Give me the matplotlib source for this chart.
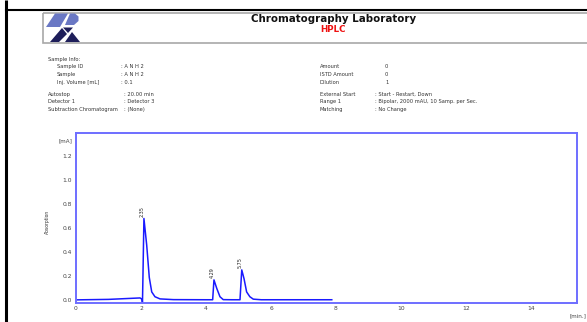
import matplotlib
matplotlib.use("Agg")
import matplotlib.pyplot as plt
from matplotlib.patches import Polygon, Rectangle

# ---------------- data ----------------
trace_time = [0.0, 1.0, 1.97, 2.03, 2.045, 2.06, 2.09, 2.175, 2.255, 2.33, 2.43,
              2.585, 3.0, 4.0, 4.205, 4.245, 4.33, 4.43, 4.53, 4.8, 5.046, 5.10,
              5.17, 5.25, 5.35, 5.455, 5.7, 6.5, 7.87]
trace_abs = [0.004, 0.008, 0.02, 0.01, -0.022, 0.2, 0.68, 0.46, 0.19, 0.07, 0.03,
             0.012, 0.006, 0.005, 0.005, 0.17, 0.10, 0.03, 0.006, 0.005, 0.005, 0.253,
             0.18, 0.07, 0.03, 0.01, 0.005, 0.005, 0.005]
peak_times = [2.09, 4.245, 5.10]
peak_heights = [0.68, 0.17, 0.253]
peak_labels = ["2.35", "4.29", "5.75"]
x_ticks = [0, 2, 4, 6, 8, 10, 12, 14]
y_ticks = [0.0, 0.2, 0.4, 0.6, 0.8, 1.0, 1.2]

info_left_top = [("Sample ID", ": A N H 2"), ("Sample", ": A N H 2"), ("Inj. Volume [mL]", ": 0.1")]
info_left_bot = [("Autostop", ": 20.00 min"), ("Detector 1", ": Detector 3"),
                 ("Subtraction Chromatogram", ": (None)")]
info_right_top = [("Amount", "0"), ("ISTD Amount", "0"), ("Dilution", "1")]
info_right_bot = [("External Start", ": Start - Restart, Down"),
                  ("Range 1", ": Bipolar, 2000 mAU, 10 Samp. per Sec."),
                  ("Matching", ": No Change")]

W, H = 587, 322
fig = plt.figure(figsize=(W / 100, H / 100), dpi=100)
plt.rcParams['font.family'] = ['DejaVu Sans']

# overlay axes in pixel coordinates for page decorations
ov = fig.add_axes([0, 0, 1, 1])
ov.set_xlim(0, W)
ov.set_ylim(H, 0)
ov.axis('off')

ov.plot([6, 6], [0, H], color='black', lw=2.2, solid_capstyle='butt')
ov.plot([6, W], [9.5, 9.5], color='black', lw=1.5)
ov.add_patch(Rectangle((43, 12.7), 560, 29.8, fill=False, ec='#a8a8a8', lw=1.2))

# logo
ov.add_patch(Polygon([(55, 13.5), (68, 13.5), (60, 27), (46, 27)], closed=True, fc='#6a78c4', ec='none'))
ov.add_patch(Polygon([(70, 13.5), (75, 13.5), (78.5, 16.5), (78.5, 21), (74, 25), (65, 25)],
                     closed=True, fc='#6a78c4', ec='none'))
ov.add_patch(Polygon([(50, 42), (62, 28), (67, 34), (59, 42)], closed=True, fc='#1e1e5a', ec='none'))
ov.add_patch(Polygon([(63, 27.5), (73, 27.5), (68, 33)], closed=True, fc='#1e1e5a', ec='none'))
ov.add_patch(Polygon([(65, 42), (72, 32), (80, 42)], closed=True, fc='#1e1e5a', ec='none'))

ov.text(334, 19, "Chromatography Laboratory", ha='center', va='center',
        fontsize=7.4, fontweight='bold', color='#111111')
ov.text(333, 29, "HPLC", ha='center', va='center', fontsize=6.3,
        fontweight='bold', color='#ee1111')

fs = 3.7
tc = '#333333'
ov.text(48, 59, "Sample Info:", fontsize=fs, color=tc, va='center')
for i, (k, v) in enumerate(info_left_top):
    y = 66.7 + i * 7.8
    ov.text(57, y, k, fontsize=fs, color=tc, va='center')
    ov.text(121, y, v, fontsize=fs, color=tc, va='center')
for i, (k, v) in enumerate(info_left_bot):
    y = 94 + i * 7.7
    ov.text(48, y, k, fontsize=fs, color=tc, va='center')
    ov.text(124, y, v, fontsize=fs, color=tc, va='center')
for i, (k, v) in enumerate(info_right_top):
    y = 66.7 + i * 7.8
    ov.text(320, y, k, fontsize=fs, color=tc, va='center')
    ov.text(385, y, v, fontsize=fs, color=tc, va='center')
for i, (k, v) in enumerate(info_right_bot):
    y = 94 + i * 7.7
    ov.text(320, y, k, fontsize=fs, color=tc, va='center')
    ov.text(375, y, v, fontsize=fs, color=tc, va='center')

# chromatogram axes
x0, x1, y0, y1 = 76, 577, 133, 303
ax = fig.add_axes([x0 / W, 1 - y1 / H, (x1 - x0) / W, (y1 - y0) / H])
ax.plot(trace_time, trace_abs, color='#1a1aff', lw=1.1)
ax.set_xlim(0, (x1 - x0) / 32.5)
ax.set_ylim(-0.022, 1.39)
ax.set_xticks(x_ticks)
ax.set_xticklabels([str(t) for t in x_ticks])
ax.set_yticks(y_ticks)
ax.set_yticklabels([f"{v:.1f}" for v in y_ticks])
ax.tick_params(axis='both', length=0, labelsize=4.3, labelcolor='#444444')
ax.tick_params(axis='y', pad=3)
ax.tick_params(axis='x', pad=2)
for s in ax.spines.values():
    s.set_color('#6e6eff')
    s.set_linewidth(1.4)

for t, h, lab in zip(peak_times, peak_heights, peak_labels):
    ax.text(t - 0.05, h + 0.015, lab, rotation=90, ha='center', va='bottom',
            fontsize=3.5, color='#222222')

ov.text(72, 141, "[mA]", ha='right', va='center', fontsize=4.1, color='#444444')
ov.text(586, 316, "[min.]", ha='right', va='center', fontsize=4.1, color='#444444')
ov.text(47, 222, "Absorption", rotation=90, ha='center', va='center',
        fontsize=3.6, color='#333333', fontstretch='condensed')

fig.savefig("out.png", dpi=100)
